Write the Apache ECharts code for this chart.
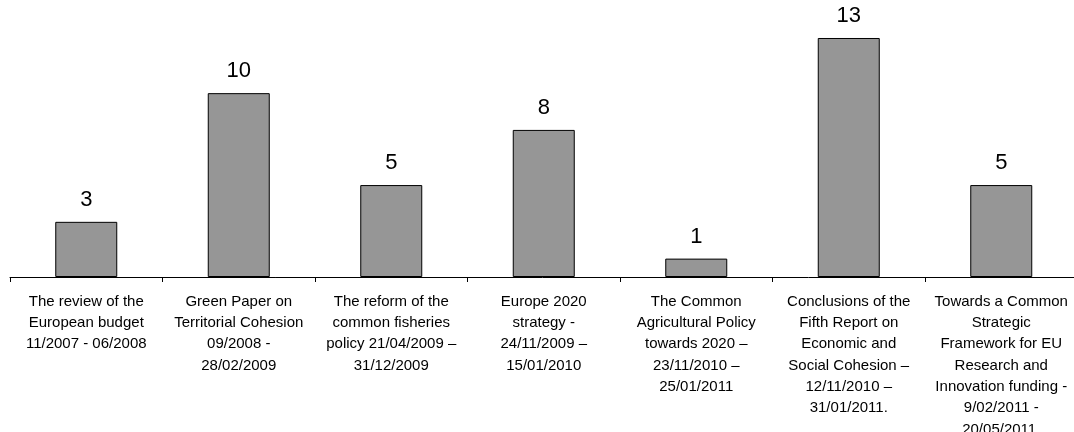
<!DOCTYPE html>
<html><head><meta charset="utf-8">
<script src="https://cdn.jsdelivr.net/npm/echarts@6/dist/echarts.min.js"></script>
<style>html,body{margin:0;padding:0;background:#fff}#c{width:1074px;height:432px}</style>
</head><body><div id="c"></div>
<script>
const categories = [
  "The review of the\nEuropean budget\n11/2007 - 06/2008",
  "Green Paper on\nTerritorial Cohesion\n09/2008 -\n28/02/2009",
  "The reform of the\ncommon fisheries\npolicy 21/04/2009 –\n31/12/2009",
  "Europe 2020\nstrategy -\n24/11/2009 –\n15/01/2010",
  "The Common\nAgricultural Policy\ntowards 2020 –\n23/11/2010 –\n25/01/2011",
  "Conclusions of the\nFifth Report on\nEconomic and\nSocial Cohesion –\n12/11/2010 –\n31/01/2011.",
  "Towards a Common\nStrategic\nFramework for EU\nResearch and\nInnovation funding -\n9/02/2011 -\n20/05/2011."
];
const values = [3, 10, 5, 8, 1, 13, 5];

const chart = echarts.init(document.getElementById('c'), null, {renderer: 'canvas'});
chart.setOption({
  animation: false,
  grid: {left: 10, top: 19.6, width: 1067.5, height: 257.4, containLabel: false, outerBoundsMode: 'none'},
  xAxis: {
    type: 'category', data: categories,
    axisLine: {lineStyle: {color: '#000', width: 1}},
    axisTick: {show: true, length: 5, lineStyle: {color: '#000'}},
    axisLabel: {interval: 0, margin: 14, color: '#000', fontFamily: 'Liberation Sans, Arial, sans-serif', fontSize: 15, lineHeight: 21.3}
  },
  yAxis: {type: 'value', min: 0, max: 14, show: false, splitLine: {show: false}},
  series: [{
    type: 'bar', data: values, barWidth: 62,
    itemStyle: {color: '#969696', borderColor: '#000', borderWidth: 1},
    label: {show: true, position: 'top', distance: 11, color: '#000', fontFamily: 'Liberation Sans, Arial, sans-serif', fontSize: 22}
  }]
});
</script></body></html>
